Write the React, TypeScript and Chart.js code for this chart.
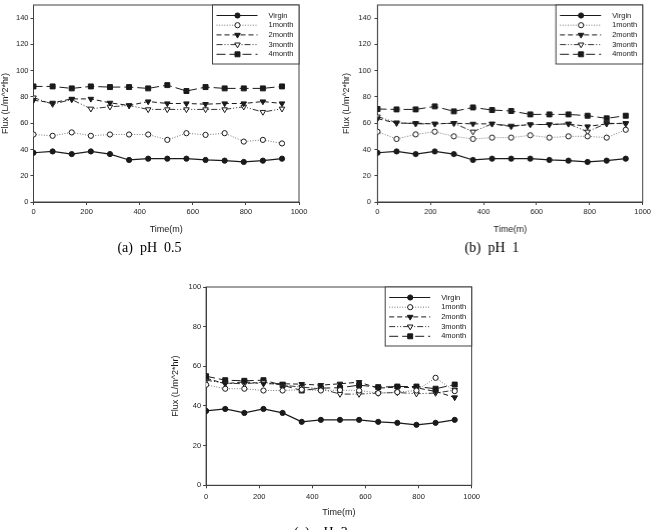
import React, { useEffect, useRef } from 'react';
import { Chart, registerables } from 'chart.js';
import { drawPoint } from 'chart.js/helpers';

Chart.register(...registerables);

// ---------- data ----------
const times = [0, 72, 144, 216, 288, 360, 432, 504, 576, 648, 720, 792, 864, 936];
const seriesNames = ['Virgin', '1month', '2month', '3month', '4month'];
const xTickValues = [0, 200, 400, 600, 800, 1000];

const virgin = [37.5, 38.5, 36.5, 38.5, 36.5, 32, 33, 33, 33, 32, 31.5, 30.5, 31.5, 33];

// (a) pH 0.5
const phA_1month = [51.4, 50.4, 53, 50.4, 51.4, 51.4, 51.4, 47.3, 52.4, 51.1, 52.4, 46, 47.3, 44.6];
const phA_2month = [77.5, 75.5, 78.5, 78.5, 75.5, 73.5, 76.5, 75, 75, 74.5, 75, 75, 76.5, 75];
const phA_3month = [79.5, 74.5, 78, 71, 72.5, 73.5, 70.5, 70.5, 70.5, 70.5, 70.5, 72.5, 68.5, 71];
const phA_4month = [88, 88, 86.5, 88, 87.5, 87.5, 86.5, 89, 84.5, 87.5, 86.5, 86.5, 86.5, 88];

// (b) pH 1
const phB_1month = [53.5, 48, 51.5, 53.5, 50, 48, 49, 49, 50.8, 49, 50, 50, 49, 55];
const phB_2month = [63.5, 60, 60, 59.5, 60, 59.5, 59.5, 57.5, 59, 59, 59.5, 57.5, 59.5, 60];
const phB_3month = [65, 60.5, 59.5, 59.5, 60, 53.5, 59.5, 58, 59, 59, 59.5, 53.5, 60, 59.5];
const phB_4month = [70.8, 70.5, 70.5, 72.8, 69, 72, 70, 69.3, 66.7, 66.7, 66.7, 65.7, 63.7, 65.7];

// (c) pH 3
const phC_1month = [50.7, 48.7, 48.7, 47.8, 47.8, 48.2, 47.8, 48, 47.8, 46.5, 47, 47.8, 54.2, 47.5];
const phC_2month = [54, 51.2, 52.2, 51.2, 51.2, 51, 50.5, 51.2, 52, 49, 49.5, 49.2, 47.3, 44.3];
const phC_3month = [53, 51.5, 51.2, 52, 50.5, 49.5, 48.7, 46, 46, 46.5, 46.8, 46.2, 46.5, 48];
const phC_4month = [55, 53, 52.7, 53, 50.5, 47.8, 49, 49.2, 50.5, 49.5, 49.8, 49.8, 48.7, 50.8];

const captionA = '(a)  pH  0.5';
const captionB = '(b)  pH  1';
const captionC = '(c)  pH  3';
const xTitle = 'Time(m)';
const yTitle = 'Flux (L/m^2*hr)';

// ---------- styles ----------
const SANS = "'Liberation Sans', Arial, Helvetica, sans-serif";
const SERIF = "'Liberation Serif', 'Times New Roman', serif";
const INK = '#1a1a1a';
const AXIS = '#404040';

const seriesStyles = [
  { borderColor: '#1a1a1a', borderWidth: 1.2, borderDash: [], pointStyle: 'circle', rotation: 0, radius: 2.6, fill: '#1a1a1a' },
  { borderColor: '#777777', borderWidth: 1, borderDash: [1, 1.6], pointStyle: 'circle', rotation: 0, radius: 2.6, fill: '#ffffff' },
  { borderColor: '#1a1a1a', borderWidth: 1, borderDash: [5, 3], pointStyle: 'triangle', rotation: 180, radius: 3.2, fill: '#1a1a1a' },
  { borderColor: '#333333', borderWidth: 1, borderDash: [6, 2, 1, 2, 1, 2], pointStyle: 'triangle', rotation: 180, radius: 3.2, fill: '#ffffff' },
  { borderColor: '#1a1a1a', borderWidth: 1, borderDash: [9, 4], pointStyle: 'rect', rotation: 0, radius: 3.5, fill: '#1a1a1a' },
];

function makeDatasets(seriesValues: number[][]) {
  return seriesValues.map((vals, i) => {
    const s = seriesStyles[i];
    return {
      label: seriesNames[i],
      data: times.map((t, k) => ({ x: t, y: vals[k] })),
      borderColor: s.borderColor,
      borderWidth: s.borderWidth,
      borderDash: s.borderDash,
      pointStyle: s.pointStyle,
      pointRotation: s.rotation,
      pointRadius: s.radius,
      pointBorderWidth: 1,
      pointBorderColor: '#1a1a1a',
      pointBackgroundColor: s.fill,
      tension: 0,
      fill: false,
    };
  });
}

const framePlugin = {
  id: 'frameBox',
  beforeDatasetsDraw(chart: any) {
    const { ctx, chartArea: a } = chart;
    ctx.save();
    ctx.strokeStyle = AXIS;
    ctx.lineWidth = 1;
    ctx.setLineDash([]);
    ctx.strokeRect(a.left, a.top, a.right - a.left, a.bottom - a.top);
    ctx.restore();
  },
};

function makeLegendPlugin() {
  return {
    id: 'boxLegend',
    afterDraw(chart: any) {
      const { ctx, chartArea: a } = chart;
      const w = 86.5;
      const h = 59;
      const left = a.right - w;
      const top = a.top;
      ctx.save();
      ctx.fillStyle = '#ffffff';
      ctx.fillRect(left, top, w, h);
      ctx.strokeStyle = AXIS;
      ctx.lineWidth = 1;
      ctx.setLineDash([]);
      ctx.strokeRect(left, top, w, h);
      chart.data.datasets.forEach((ds: any, i: number) => {
        const y = top + 10.5 + i * 9.7;
        ctx.save();
        ctx.strokeStyle = ds.borderColor;
        ctx.lineWidth = ds.borderWidth;
        ctx.setLineDash(ds.borderDash || []);
        ctx.beginPath();
        ctx.moveTo(left + 4, y);
        ctx.lineTo(left + 45, y);
        ctx.stroke();
        ctx.setLineDash([]);
        ctx.fillStyle = ds.pointBackgroundColor;
        ctx.strokeStyle = ds.pointBorderColor;
        ctx.lineWidth = 1;
        drawPoint(ctx, { pointStyle: ds.pointStyle, rotation: ds.pointRotation, radius: ds.pointRadius, borderWidth: 1 }, left + 25, y);
        ctx.restore();
        ctx.fillStyle = INK;
        ctx.font = `7.5px ${SANS}`;
        ctx.textAlign = 'left';
        ctx.textBaseline = 'middle';
        ctx.fillText(ds.label, left + 56, y);
      });
      ctx.restore();
    },
  };
}

type Cfg = {
  left: number; top: number; width: number; height: number;
  padRight: number; padTop: number;
  yMax: number; yTickMax: number; yAxisWidth: number; yTickPad: number;
  xLabelPad: number; xTitlePadBottom: number;
  capTop: number; capBottom: number;
  caption: string;
  series: number[][];
};

function buildConfig(cfg: Cfg): any {
  return {
    type: 'line',
    data: { datasets: makeDatasets(cfg.series) },
    plugins: [framePlugin, makeLegendPlugin()],
    options: {
      animation: false,
      responsive: true,
      maintainAspectRatio: false,
      events: [],
      layout: { padding: { top: cfg.padTop, right: cfg.padRight, left: 0, bottom: 0 } },
      plugins: {
        legend: { display: false },
        tooltip: { enabled: false },
        title: {
          display: true,
          position: 'bottom',
          text: cfg.caption,
          color: '#000',
          font: { family: SERIF, size: 14, weight: 'normal', lineHeight: 1.2 },
          padding: { top: cfg.capTop, bottom: cfg.capBottom },
        },
      },
      scales: {
        x: {
          type: 'linear',
          min: 0,
          max: 1000,
          afterBuildTicks: (s: any) => { s.ticks = xTickValues.map((v) => ({ value: v })); },
          afterFit: (s: any) => { s.height = 36; s.paddingLeft = 0; s.paddingRight = 0; },
          grid: { display: true, drawOnChartArea: false, drawTicks: true, tickLength: 3, color: AXIS },
          border: { display: true, color: AXIS, width: 1 },
          ticks: {
            color: INK, font: { family: SANS, size: 7.5, lineHeight: 1.2 }, padding: cfg.xLabelPad,
            maxRotation: 0, autoSkip: false, callback: (v: any) => String(v),
          },
          title: { display: true, text: xTitle, color: INK, font: { family: SANS, size: 9, lineHeight: 1.2 }, padding: { top: 0, bottom: cfg.xTitlePadBottom } },
        },
        y: {
          type: 'linear',
          min: 0,
          max: cfg.yMax,
          ticks: { stepSize: 20, color: INK, font: { family: SANS, size: 7.5, lineHeight: 1.2 }, padding: cfg.yTickPad, callback: (v: any) => String(v) },
          afterBuildTicks: (s: any) => { s.ticks = s.ticks.filter((t: any) => t.value <= cfg.yTickMax); },
          afterFit: (s: any) => { s.width = cfg.yAxisWidth; s.paddingTop = 0; s.paddingBottom = 0; },
          grid: { display: true, drawOnChartArea: false, drawTicks: true, tickLength: 3, color: AXIS },
          border: { display: true, color: AXIS, width: 1 },
          title: { display: true, text: yTitle, color: INK, font: { family: SANS, size: 9, lineHeight: 1.2 }, padding: { top: 0, bottom: 0 } },
        },
      },
    },
  };
}

const chartA: Cfg = {
  left: 0, top: 0, width: 313, height: 259, padRight: 14, padTop: 4,
  yMax: 150, yTickMax: 140, yAxisWidth: 33.5, yTickPad: 2,
  xLabelPad: 2.8, xTitlePadBottom: 2.6, capTop: 1.6, capBottom: 2.6,
  caption: captionA,
  series: [virgin, phA_1month, phA_2month, phA_3month, phA_4month],
};

const chartB: Cfg = {
  left: 341.3, top: 0, width: 312.4, height: 259, padRight: 11.7, padTop: 4,
  yMax: 150, yTickMax: 140, yAxisWidth: 36.4, yTickPad: 3.6,
  xLabelPad: 2.8, xTitlePadBottom: 2.6, capTop: 1.6, capBottom: 2.6,
  caption: captionB,
  series: [virgin, phB_1month, phB_2month, phB_3month, phB_4month],
};

const chartC: Cfg = {
  left: 169.6, top: 282, width: 315.8, height: 262, padRight: 14.1, padTop: 4,
  yMax: 100, yTickMax: 100, yAxisWidth: 36.1, yTickPad: 2,
  xLabelPad: 3.9, xTitlePadBottom: 3.2, capTop: 4, capBottom: 1.9,
  caption: captionC,
  series: [virgin, phC_1month, phC_2month, phC_3month, phC_4month],
};

function ChartPanel({ cfg }: { cfg: Cfg }) {
  const ref = useRef<HTMLCanvasElement | null>(null);
  useEffect(() => {
    if (!ref.current) return;
    const chart = new Chart(ref.current, buildConfig(cfg));
    return () => chart.destroy();
  }, [cfg]);
  return (
    <div style={{ position: 'absolute', left: cfg.left, top: cfg.top, width: cfg.width, height: cfg.height }}>
      <canvas ref={ref} />
    </div>
  );
}

export default function App() {
  return (
    <div style={{ position: 'absolute', left: 0, top: 0, width: 654, height: 530, overflow: 'hidden', background: '#ffffff' }}>
      <ChartPanel cfg={chartA} />
      <ChartPanel cfg={chartB} />
      <ChartPanel cfg={chartC} />
    </div>
  );
}
